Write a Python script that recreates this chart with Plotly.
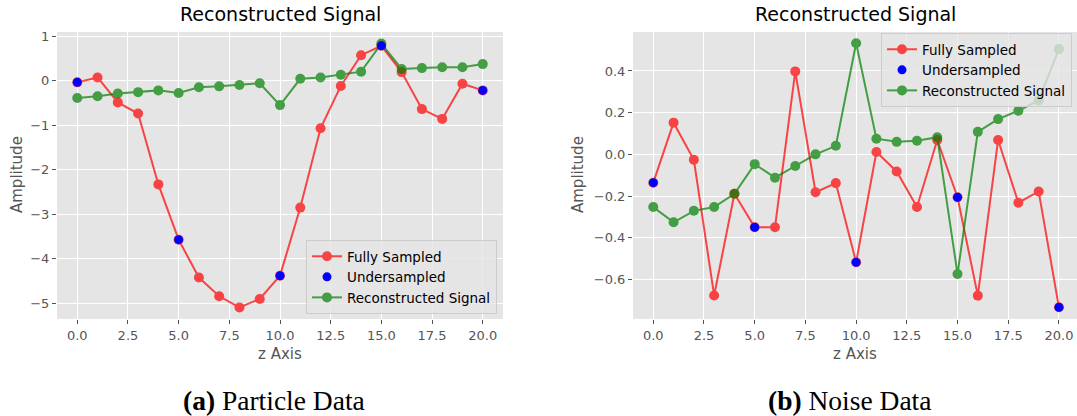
import plotly.graph_objects as go

z = list(range(21))
under_idx = [0, 5, 10, 15, 20]

# (a) Particle data
particle_full = [-0.04, 0.07, -0.49, -0.74, -2.33, -3.57, -4.42, -4.84, -5.09, -4.90,
                 -4.38, -2.85, -1.07, -0.12, 0.57, 0.78, 0.19, -0.64, -0.86, -0.07, -0.22]
particle_recon = [-0.39, -0.35, -0.29, -0.26, -0.22, -0.28, -0.15, -0.13, -0.10, -0.06,
                  -0.55, 0.04, 0.07, 0.13, 0.20, 0.83, 0.26, 0.28, 0.30, 0.30, 0.37]

# (b) Noise data
noise_full = [-0.136, 0.152, -0.026, -0.677, -0.189, -0.350, -0.350, 0.398, -0.182, -0.138,
              -0.518, 0.011, -0.082, -0.253, 0.069, -0.206, -0.678, 0.069, -0.232, -0.178, -0.734]
noise_recon = [-0.253, -0.326, -0.271, -0.253, -0.189, -0.047, -0.112, -0.056, 0.0, 0.041,
               0.533, 0.075, 0.060, 0.065, 0.082, -0.574, 0.108, 0.169, 0.209, 0.259, 0.505]

x_ticks = [0, 2.5, 5, 7.5, 10, 12.5, 15, 17.5, 20]
x_tick_text = ["0.0", "2.5", "5.0", "7.5", "10.0", "12.5", "15.0", "17.5", "20.0"]
left_y_ticks = [1, 0, -1, -2, -3, -4, -5]
left_y_text = ["1", "0", "\u22121", "\u22122", "\u22123", "\u22124", "\u22125"]
right_y_ticks = [0.4, 0.2, 0.0, -0.2, -0.4, -0.6]
right_y_text = ["0.4", "0.2", "0.0", "\u22120.2", "\u22120.4", "\u22120.6"]

W, H = 1077, 416
FONT = "DejaVu Sans"

fig = go.Figure()

def add_panel(full, recon, xa, ya, legend):
    under_x = [z[i] for i in under_idx]
    under_y = [full[i] for i in under_idx]
    fig.add_trace(go.Scatter(x=z, y=full, mode="lines+markers", name="Fully Sampled",
                             line=dict(color="red", width=2), marker=dict(color="red", size=10),
                             opacity=0.7, xaxis=xa, yaxis=ya, legend=legend, legendrank=1))
    fig.add_trace(go.Scatter(x=z, y=recon, mode="lines+markers", name="Reconstructed Signal",
                             line=dict(color="green", width=2), marker=dict(color="green", size=10),
                             opacity=0.7, xaxis=xa, yaxis=ya, legend=legend, legendrank=3))
    fig.add_trace(go.Scatter(x=under_x, y=under_y, mode="markers", name="Undersampled",
                             marker=dict(color="blue", size=9),
                             xaxis=xa, yaxis=ya, legend=legend, legendrank=2))

add_panel(particle_full, particle_recon, "x", "y", "legend")
add_panel(noise_full, noise_recon, "x2", "y2", "legend2")

ydom = [(H - 319) / H, (H - 32) / H]
common_axis = dict(showgrid=True, gridcolor="white", gridwidth=1.2, zeroline=False,
                   ticks="outside", ticklen=4, tickcolor="#555555", tickwidth=1,
                   tickfont=dict(family=FONT, size=13, color="#555555"), showline=False,
                   automargin=False)

fig.update_layout(
    width=W, height=H, margin=dict(l=0, r=0, t=0, b=0, autoexpand=False),
    paper_bgcolor="white", plot_bgcolor="#E5E5E5",
    xaxis=dict(domain=[57 / W, 503 / W], range=[-1.0, 21.0], tickvals=x_ticks,
               ticktext=x_tick_text, anchor="y", **common_axis),
    yaxis=dict(domain=ydom, range=[-5.35, 1.09], tickvals=left_y_ticks,
               ticktext=left_y_text, anchor="x", **common_axis),
    xaxis2=dict(domain=[633 / W, 1.0], range=[-1.0, 20.89], tickvals=x_ticks,
                ticktext=x_tick_text, anchor="y2", **common_axis),
    yaxis2=dict(domain=ydom, range=[-0.79, 0.587], tickvals=right_y_ticks,
                ticktext=right_y_text, anchor="x2", **common_axis),
    legend=dict(x=497 / W, y=(H - 314) / H, xanchor="right", yanchor="bottom",
                bgcolor="rgba(229,229,229,0.8)", bordercolor="#CCCCCC", borderwidth=1,
                font=dict(family=FONT, size=13.5, color="black"), tracegroupgap=0,
                itemwidth=30),
    legend2=dict(x=1072 / W, y=(H - 33) / H, xanchor="right", yanchor="top",
                 bgcolor="rgba(229,229,229,0.8)", bordercolor="#CCCCCC", borderwidth=1,
                 font=dict(family=FONT, size=13.5, color="black"), tracegroupgap=0,
                 itemwidth=30),
    showlegend=True,
)

annotations = [
    dict(text="Reconstructed Signal", x=280 / W, y=(H - 14) / H, font=dict(family=FONT, size=19, color="black")),
    dict(text="Reconstructed Signal", x=855 / W, y=(H - 14) / H, font=dict(family=FONT, size=19, color="black")),
    dict(text="z Axis", x=280 / W, y=(H - 354) / H, font=dict(family=FONT, size=15, color="#555555")),
    dict(text="z Axis", x=855 / W, y=(H - 354) / H, font=dict(family=FONT, size=15, color="#555555")),
    dict(text="Amplitude", x=17 / W, y=(H - 175) / H, textangle=-90, font=dict(family=FONT, size=15, color="#555555")),
    dict(text="Amplitude", x=578 / W, y=(H - 175) / H, textangle=-90, font=dict(family=FONT, size=15, color="#555555")),
    dict(text="<b>(a)</b> Particle Data", x=274 / W, y=(H - 400) / H, font=dict(family="Liberation Serif", size=27.5, color="black")),
    dict(text="<b>(b)</b> Noise Data", x=849 / W, y=(H - 400) / H, font=dict(family="Liberation Serif", size=27.5, color="black")),
]
for a in annotations:
    a.update(xref="paper", yref="paper", xanchor="center", yanchor="middle", showarrow=False)
fig.update_layout(annotations=annotations)

fig.write_html(
    "out.html",
    config={"displayModeBar": False},
    post_script="document.body.style.margin='0';document.body.style.overflow='hidden';",
)
